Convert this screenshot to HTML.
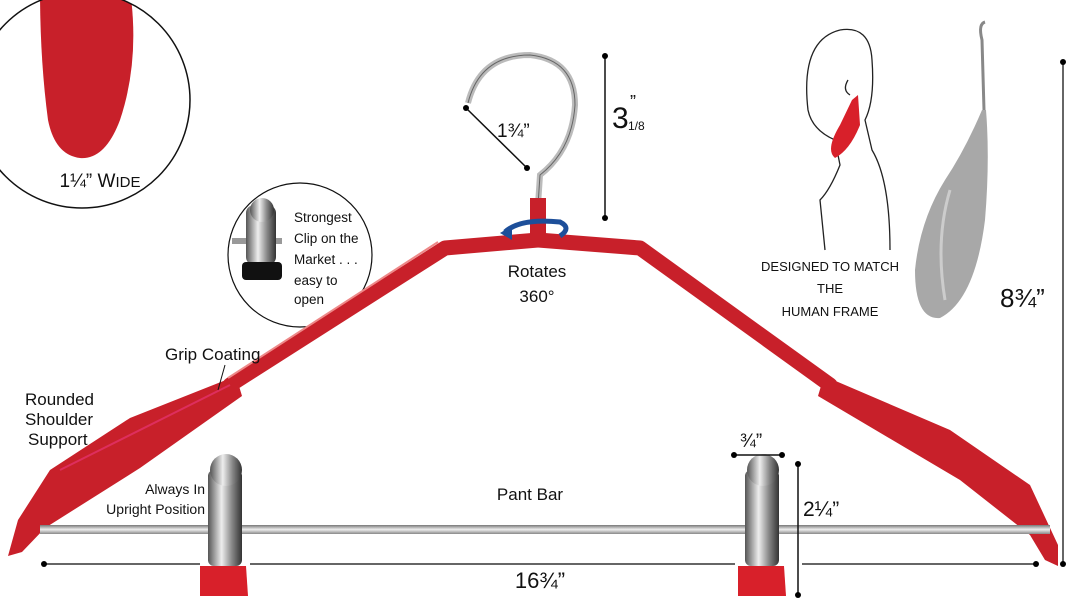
<!DOCTYPE html>
<html><head><meta charset="utf-8"><style>
html,body{margin:0;padding:0;background:#fff;}
svg{display:block;}
text{font-family:"Liberation Sans","DejaVu Sans",sans-serif;fill:#111;}
</style></head><body>
<svg width="1080" height="606" viewBox="0 0 1080 606" xmlns="http://www.w3.org/2000/svg">
<defs>
<linearGradient id="sil" x1="0" x2="1"><stop offset="0" stop-color="#555"/><stop offset="0.4" stop-color="#eee"/><stop offset="0.7" stop-color="#888"/><stop offset="1" stop-color="#333"/></linearGradient>
<linearGradient id="bar" x1="0" y1="0" x2="0" y2="1"><stop offset="0" stop-color="#777"/><stop offset="0.5" stop-color="#eee"/><stop offset="1" stop-color="#888"/></linearGradient>
</defs>
<!-- top-left circle -->
<clipPath id="c1"><circle cx="82" cy="100" r="108"/></clipPath>
<g clip-path="url(#c1)"><path d="M40,-10 L130,-10 Q140,60 120,120 Q105,160 80,158 Q55,155 48,120 Q40,60 40,-10Z" fill="#c8202a"/></g>
<circle cx="82" cy="100" r="108" fill="none" stroke="#111" stroke-width="1.5"/>
<text x="100" y="187" font-size="19" text-anchor="middle">1¼” W<tspan font-size="15">IDE</tspan></text>
<!-- clip circle -->
<circle cx="300" cy="255" r="72" fill="#fff" stroke="#111" stroke-width="1.2"/>
<rect x="232" y="238" width="50" height="6" fill="#999"/>
<rect x="246" y="205" width="30" height="60" rx="8" fill="url(#sil)"/>
<circle cx="262" cy="210" r="12" fill="url(#sil)"/>
<rect x="242" y="262" width="40" height="18" rx="4" fill="#111"/>
<text font-size="13.5" x="294" y="222">Strongest</text>
<text font-size="13.5" x="294" y="243">Clip on the</text>
<text font-size="13.5" x="294" y="264">Market . . .</text>
<text font-size="13.5" x="294" y="285">easy to</text>
<text font-size="13.5" x="294" y="304">open</text>
<!-- hook -->
<path d="M468,103 Q480,55 530,55 Q575,60 575,105 Q572,150 540,175 L538,205" fill="none" stroke="#bbb" stroke-width="6"/>
<path d="M468,103 Q480,55 530,55 Q575,60 575,105 Q572,150 540,175 L538,205" fill="none" stroke="#666" stroke-width="1"/>
<line x1="466" y1="108" x2="527" y2="168" stroke="#111" stroke-width="1.5"/>
<circle cx="466" cy="108" r="3"/><circle cx="527" cy="168" r="3"/>
<text x="497" y="137" font-size="19" fill="#111">1¾”</text>
<line x1="605" y1="56" x2="605" y2="218" stroke="#111" stroke-width="1.5"/>
<circle cx="605" cy="56" r="3"/><circle cx="605" cy="218" r="3"/>
<text x="612" y="128" font-size="30">3</text><text x="630" y="108" font-size="18">”</text><text x="628" y="130" font-size="12">1/8</text>
<!-- hanger -->
<g fill="none" stroke="#c8202a" stroke-linejoin="round" stroke-linecap="round">
<path d="M538,240 L445,248 L230,385" stroke-width="15"/>
<path d="M538,240 L640,248 L830,385" stroke-width="15"/>
</g>
<path d="M438,242 L228,378" stroke="#e88" stroke-width="2" fill="none"/>
<rect x="530" y="198" width="16" height="42" fill="#c8202a"/>
<path d="M505,232 Q520,218 560,222 Q572,228 560,236" fill="none" stroke="#1d4f9a" stroke-width="5"/>
<path d="M500,233 L512,226 L512,240Z" fill="#1d4f9a"/>
<path d="M236,376 L130,418 L50,470 L18,520 L8,556 L22,552 L45,528 L140,468 L242,396Z" fill="#c8202a"/>
<path d="M824,376 L950,430 L1030,485 L1058,545 L1058,566 L1045,560 L1030,535 L960,480 L818,396Z" fill="#c8202a"/>
<path d="M230,385 L60,470" stroke="#f4a" stroke-opacity=".4" stroke-width="2"/>
<!-- bar -->
<rect x="40" y="525" width="1010" height="9" fill="url(#bar)"/>
<!-- clips -->
<g>
<rect x="208" y="470" width="34" height="96" rx="6" fill="url(#sil)"/>
<circle cx="226" cy="470" r="16" fill="url(#sil)"/>
<path d="M200,566 L246,566 L248,596 L200,596Z" fill="#d8202a"/>
<rect x="745" y="470" width="34" height="96" rx="6" fill="url(#sil)"/>
<circle cx="763" cy="470" r="16" fill="url(#sil)"/>
<path d="M738,566 L784,566 L786,596 L738,596Z" fill="#d8202a"/>
</g>
<!-- dimension lines -->
<line x1="44" y1="564" x2="200" y2="564" stroke="#333" stroke-width="1.5"/>
<line x1="250" y1="564" x2="735" y2="564" stroke="#333" stroke-width="1.5"/>
<line x1="802" y1="564" x2="1036" y2="564" stroke="#333" stroke-width="1.5"/>
<circle cx="44" cy="564" r="3"/><circle cx="1036" cy="564" r="3"/>
<text x="540" y="588" font-size="22" text-anchor="middle">16¾”</text>
<line x1="1063" y1="62" x2="1063" y2="564" stroke="#333" stroke-width="1.5"/>
<circle cx="1063" cy="62" r="3"/><circle cx="1063" cy="564" r="3"/>
<text x="1000" y="307" font-size="26">8¾”</text>
<line x1="734" y1="455" x2="782" y2="455" stroke="#111" stroke-width="1.5"/>
<circle cx="734" cy="455" r="3"/><circle cx="782" cy="455" r="3"/>
<text x="740" y="447" font-size="19">¾”</text>
<line x1="798" y1="464" x2="798" y2="595" stroke="#111" stroke-width="1.5"/>
<circle cx="798" cy="464" r="3"/><circle cx="798" cy="595" r="3"/>
<text x="803" y="516" font-size="21">2¼”</text>
<!-- labels -->
<text x="537" y="277" font-size="17" text-anchor="middle">Rotates</text>
<text x="537" y="302" font-size="17" text-anchor="middle">360°</text>
<text x="165" y="360" font-size="17">Grip Coating</text>
<line x1="225" y1="365" x2="218" y2="390" stroke="#111"/>
<text x="25" y="405" font-size="17">Rounded</text>
<text x="25" y="425" font-size="17">Shoulder</text>
<text x="28" y="445" font-size="17">Support</text>
<text x="205" y="494" font-size="14" text-anchor="end">Always In</text>
<text x="205" y="514" font-size="14" text-anchor="end">Upright Position</text>
<text x="530" y="500" font-size="17" text-anchor="middle">Pant Bar</text>
<!-- human figure -->
<g fill="none" stroke="#222" stroke-width="1.3">
<path d="M840,30 Q800,40 808,110 Q812,130 835,140 L840,165 Q830,190 820,200 L825,250"/>
<path d="M840,30 Q870,25 872,60 Q875,100 865,120 L872,150 Q890,180 890,250"/>
<path d="M848,80 Q842,90 850,95"/>
</g>
<path d="M858,95 L860,125 Q850,150 835,158 Q825,150 840,125 L852,100Z" fill="#d8202a"/>
<text x="830" y="271" font-size="13" text-anchor="middle">DESIGNED TO MATCH</text>
<text x="830" y="293" font-size="13" text-anchor="middle">THE</text>
<text x="830" y="316" font-size="13" text-anchor="middle">HUMAN FRAME</text>
<!-- gray side hanger -->
<path d="M985,22 Q978,24 982,40 L984,110" fill="none" stroke="#888" stroke-width="3"/>
<path d="M982,110 Q965,150 945,180 Q920,220 915,270 Q915,320 940,318 Q975,300 985,220 Q990,160 986,110Z" fill="#a8a8a8"/>
<path d="M950,190 Q935,240 945,300" stroke="#ccc" stroke-width="3" fill="none"/>
</svg>
</body></html>
